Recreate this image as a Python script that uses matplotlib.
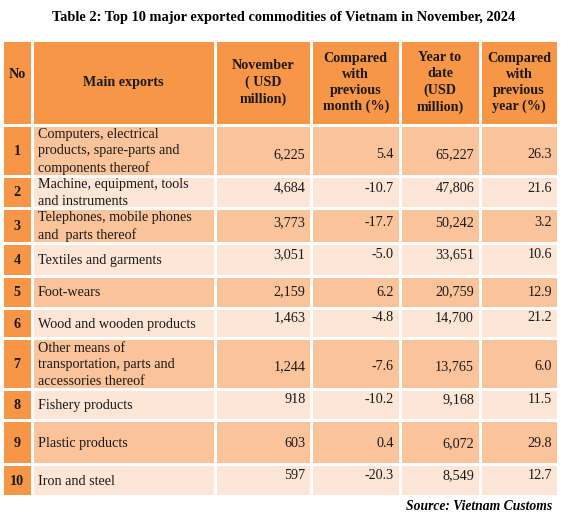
import matplotlib
matplotlib.use("Agg")
import matplotlib.pyplot as plt
from matplotlib.patches import Rectangle

# ====================== DATA ======================
title = "Table 2: Top 10 major exported commodities of Vietnam in November, 2024"
source = "Source: Vietnam Customs"

headers = ["No", "Main exports", "November\n( USD\nmillion)",
           "Compared\nwith\nprevious\nmonth (%)", "Year to\ndate\n(USD\nmillion)",
           "Compared\nwith\nprevious\nyear (%)"]

numbers = list(range(1, 11))
commodities = [
    "Computers, electrical\nproducts, spare-parts and\ncomponents thereof",
    "Machine, equipment, tools\nand instruments",
    "Telephones, mobile phones\nand  parts thereof",
    "Textiles and garments",
    "Foot-wears",
    "Wood and wooden products",
    "Other means of\ntransportation, parts and\naccessories thereof",
    "Fishery products",
    "Plastic products",
    "Iron and steel",
]
november = [6225, 4684, 3773, 3051, 2159, 1463, 1244, 918, 603, 597]
vs_prev_month = [5.4, -10.7, -17.7, -5.0, 6.2, -4.8, -7.6, -10.2, 0.4, -20.3]
year_to_date = [65227, 47806, 50242, 33651, 20759, 14700, 13765, 9168, 6072, 8549]
vs_prev_year = [26.3, 21.6, 3.2, 10.6, 12.9, 21.2, 6.0, 11.5, 29.8, 12.7]

# ====================== LAYOUT ======================
col_edges = [2, 32.5, 215, 311.5, 400, 480, 558]
row_edges = [40, 125, 176, 208, 243, 276, 308, 338.5, 389, 420, 464.5, 496]
value_shift = [4, -4, -3, -5, 0, -6, 3, -5, 1, -5]  # values sit a bit off-centre

orange = "#F79646"
dark_row = "#FAC39A"
light_row = "#FDE6D6"
gap = 1.5
fs = 10.2

plt.rcParams['font.family'] = ['Liberation Serif', 'DejaVu Serif']

fig = plt.figure(figsize=(5.62, 5.15), dpi=100)
ax = fig.add_axes([0, 0, 1, 1])
ax.set_xlim(0, 562)
ax.set_ylim(515, 0)
ax.axis('off')


def cell(c, r, color):
    x0, x1 = col_edges[c], col_edges[c + 1]
    y0, y1 = row_edges[r], row_edges[r + 1]
    ax.add_patch(Rectangle((x0 + gap, y0 + gap), x1 - x0 - 2 * gap, y1 - y0 - 2 * gap,
                           facecolor=color, edgecolor='none'))
    return x0, x1, (y0 + y1) / 2


ax.text(284, 17, title, ha='center', va='center', fontsize=10.4, fontweight='bold')

# header
for c, h in enumerate(headers):
    x0, x1, ym = cell(c, 0, orange)
    y = ym - 8 if c == 0 else ym
    ax.text((x0 + x1) / 2, y, h, ha='center', va='center', fontsize=fs,
            fontweight='bold', linespacing=1.3, color='#1a1a1a')

# body
for i in range(len(commodities)):
    r = i + 1
    fill = dark_row if i % 2 == 0 else light_row
    x0, x1, ym = cell(0, r, orange)
    ax.text((x0 + x1) / 2, ym + 1, str(numbers[i]), ha='center', va='center',
            fontsize=fs, fontweight='bold', color='#1a1a1a')
    x0, x1, ym = cell(1, r, fill)
    ax.text(x0 + 5, ym + 1, commodities[i], ha='left', va='center', fontsize=fs,
            linespacing=1.33, color='#1a1a1a')
    vals = [f"{november[i]:,}", f"{vs_prev_month[i]:.1f}",
            f"{year_to_date[i]:,}", f"{vs_prev_year[i]:.1f}"]
    for k, v in enumerate(vals):
        x0, x1, ym = cell(k + 2, r, fill)
        ax.text(x1 - 6, ym + value_shift[i], v, ha='right', va='center',
                fontsize=fs, color='#1a1a1a')

ax.text(552, 507, source, ha='right', va='center', fontsize=9.8,
        fontweight='bold', fontstyle='italic')

fig.savefig("out.png", dpi=100)
